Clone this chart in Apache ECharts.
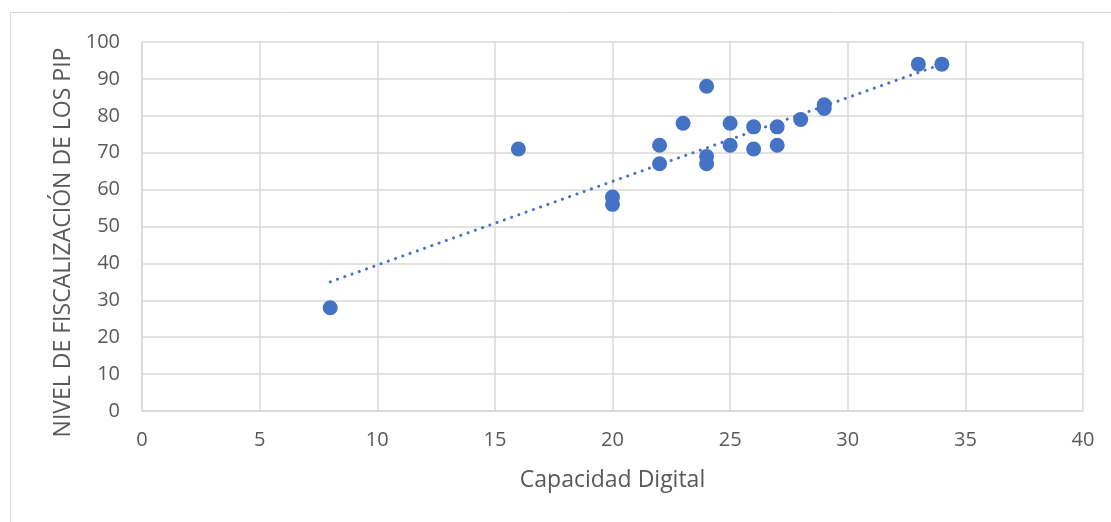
<!DOCTYPE html>
<html>
<head>
<meta charset="utf-8">
<script src="https://cdn.jsdelivr.net/npm/echarts@6/dist/echarts.min.js"></script>
<style>
html,body{margin:0;padding:0;background:#fff;}
#chart{width:1111px;height:522px;}
</style>
</head>
<body>
<div id="chart"></div>
<script>
// Capacidad Digital (x) and NIVEL DE FISCALIZACIÓN DE LOS PIP (y)
const capacidad     = [8, 16, 20, 20, 22, 22, 23, 24, 24, 24, 25, 25, 26, 26, 27, 27, 28, 29, 29, 33, 34];
const fiscalizacion = [28, 71, 58, 56, 72, 67, 78, 88, 69, 67, 78, 72, 77, 71, 77, 72, 79, 83, 82, 94, 94];
// Linear trendline endpoints
const trendX = [8, 34];
const trendY = [35, 94];

const xName = 'Capacidad Digital';
const yName = 'NIVEL DE FISCALIZACIÓN DE LOS PIP';

const pts = capacidad.map((x, i) => [x, fiscalizacion[i]]);
const trend = trendX.map((x, i) => [x, trendY[i]]);

const FONT = 'Open Sans';
const TXT = '#595959';
const GRID = '#d9d9d9';

const chart = echarts.init(document.getElementById('chart'), null, {renderer: 'canvas'});
chart.setOption({
  animation: false,
  backgroundColor: '#fff',
  graphic: [{
    type: 'rect', silent: true,
    shape: {x: 10.5, y: 12.5, width: 1110, height: 530},
    style: {fill: 'none', stroke: GRID, lineWidth: 1}
  }],
  grid: {left: 142, right: 28, top: 42, bottom: 111, containLabel: false},
  xAxis: {
    type: 'value', min: 0, max: 40, interval: 5,
    name: xName, nameLocation: 'middle', nameGap: 58,
    nameTextStyle: {fontFamily: FONT, fontSize: 23, color: TXT},
    axisLine: {show: true, lineStyle: {color: GRID, width: 1.5}},
    axisTick: {show: false},
    axisLabel: {fontFamily: FONT, fontSize: 20, color: TXT, margin: 19},
    splitLine: {show: true, lineStyle: {color: GRID, width: 1.5}}
  },
  yAxis: {
    type: 'value', min: 0, max: 100, interval: 10,
    name: yName, nameLocation: 'middle', nameGap: 67,
    nameTextStyle: {fontFamily: FONT, fontSize: 23, color: TXT, padding: [0, 32, 0, 0]},
    axisLine: {show: true, lineStyle: {color: GRID, width: 1.5}},
    axisTick: {show: false},
    axisLabel: {fontFamily: FONT, fontSize: 20, color: TXT, margin: 22},
    splitLine: {show: true, lineStyle: {color: GRID, width: 1.5}}
  },
  series: [
    {
      type: 'line', data: trend, symbol: 'none', z: 3,
      lineStyle: {color: '#4472C4', width: 3, type: [0.1, 7.6], cap: 'round'}
    },
    {
      type: 'scatter', data: pts, symbol: 'circle', symbolSize: 15, z: 4,
      itemStyle: {color: '#4472C4', opacity: 1}
    }
  ]
});
</script>
</body>
</html>
